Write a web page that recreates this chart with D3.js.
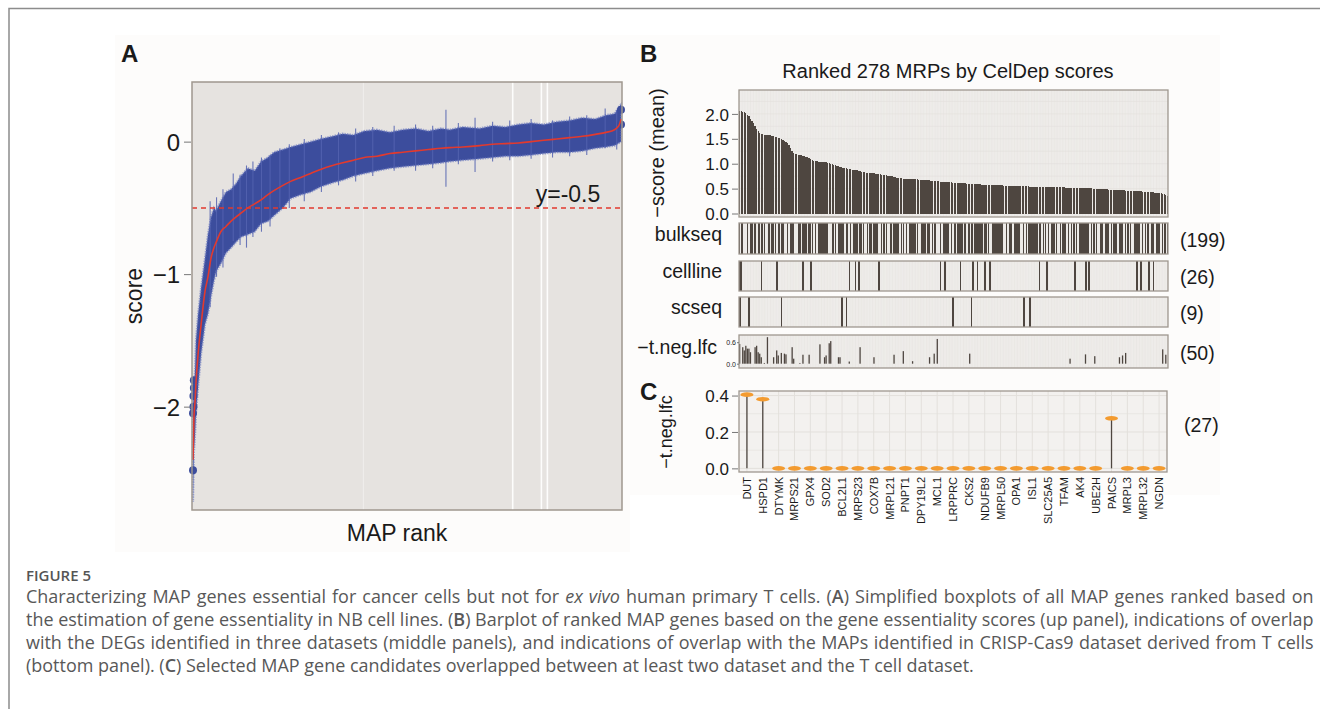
<!DOCTYPE html>
<html>
<head>
<meta charset="utf-8">
<script src="https://cdn.jsdelivr.net/npm/d3@7"></script>
<style>
  body { margin: 0; background: #fff; }
  svg { display: block; }
  text { font-family: "Liberation Sans", Arial, sans-serif; fill: #1a1a1a; }
  .cap { font-family: "Open Sans", sans-serif; fill: #585858; }
</style>
</head>
<body>
<script>
// ---- panel A: ranked boxplot summary (rank scale 0..1000) ----
var aRank   = [0, 2, 5, 7, 12, 19, 28, 35, 42, 49, 54, 65, 77, 89, 100, 112, 128, 144, 159, 175, 189, 210, 228, 252, 275, 298, 326, 350, 375, 400, 430, 460, 490, 520, 550, 580, 600, 630, 670, 700, 730, 760, 790, 820, 850, 880, 910, 940, 965, 985, 995, 1000];
var aMedian = [-2.40, -2.10, -1.95, -1.82, -1.60, -1.38, -1.13, -1.02, -0.88, -0.80, -0.76, -0.68, -0.64, -0.60, -0.57, -0.54, -0.50, -0.47, -0.44, -0.40, -0.37, -0.33, -0.30, -0.27, -0.24, -0.21, -0.18, -0.16, -0.14, -0.12, -0.11, -0.09, -0.08, -0.07, -0.06, -0.05, -0.045, -0.04, -0.03, -0.02, -0.015, -0.01, 0.00, 0.01, 0.02, 0.03, 0.04, 0.055, 0.07, 0.09, 0.12, 0.17];
var aLower  = [-2.72, -2.35, -2.20, -2.05, -1.85, -1.60, -1.38, -1.30, -1.17, -1.05, -0.98, -0.92, -0.84, -0.80, -0.76, -0.72, -0.70, -0.68, -0.62, -0.60, -0.56, -0.50, -0.43, -0.40, -0.38, -0.34, -0.31, -0.29, -0.26, -0.24, -0.22, -0.20, -0.19, -0.18, -0.17, -0.16, -0.15, -0.14, -0.13, -0.12, -0.11, -0.11, -0.10, -0.09, -0.08, -0.08, -0.07, -0.05, -0.04, -0.03, -0.01, 0.00];
var aUpper  = [-2.00, -1.90, -1.70, -1.50, -1.30, -1.10, -0.88, -0.70, -0.57, -0.50, -0.52, -0.45, -0.38, -0.36, -0.32, -0.26, -0.20, -0.22, -0.15, -0.12, -0.08, -0.06, -0.04, -0.02, 0.00, 0.02, 0.04, 0.06, 0.05, 0.08, 0.09, 0.07, 0.09, 0.10, 0.08, 0.10, 0.09, 0.11, 0.10, 0.12, 0.11, 0.13, 0.14, 0.13, 0.15, 0.16, 0.18, 0.17, 0.20, 0.21, 0.26, 0.28];
// individual long whiskers standing out of the band
var aSpikeRank = [40, 55, 70, 94, 110, 125, 140, 160, 180, 203, 225, 260, 300, 340, 380, 420, 470, 520, 560, 591, 620, 659, 700, 740, 790, 840, 880, 920, 963, 990];
var aSpikeLow  = [-1.25, -1.02, -0.95, -0.75, -0.78, -0.80, -0.72, -0.68, -0.64, -0.50, -0.50, -0.45, -0.38, -0.33, -0.30, -0.26, -0.22, -0.22, -0.20, -0.34, -0.17, -0.23, -0.15, -0.14, -0.13, -0.12, -0.11, -0.10, -0.05, -0.06];
var aSpikeHigh = [-0.45, -0.42, -0.36, -0.24, -0.25, -0.18, -0.15, -0.12, -0.10, -0.05, -0.02, 0.02, 0.05, 0.07, 0.10, 0.11, 0.12, 0.13, 0.12, 0.24, 0.14, 0.18, 0.15, 0.16, 0.17, 0.16, 0.19, 0.20, 0.25, 0.24];
var aOutRank  = [0, 0, 1, 1, 2, 2, 1000, 1000];
var aOutScore = [-2.48, -2.05, -2.00, -1.92, -1.86, -1.80, 0.24, 0.13];
var aGridRank = [398, 747, 814, 828];
var aTicks = [0, -1, -2];
var cutoff = -0.5;

// ---- panel B: 278 ranked MRPs ----
var bScores = [
  2.06, 2.05, 2.04, 2.03, 2.01, 1.98, 1.95, 1.90, 1.86, 1.82, 1.75, 1.70, 1.66,
  1.62, 1.60, 1.59, 1.58, 1.58, 1.58, 1.57, 1.57, 1.56, 1.55,
  1.54, 1.53, 1.52, 1.51, 1.50, 1.48, 1.46, 1.44, 1.42, 1.38, 1.32, 1.26,
  1.22, 1.20, 1.19, 1.18, 1.17, 1.17, 1.16, 1.15, 1.14, 1.13, 1.12, 1.10, 1.08, 1.06,
  1.05, 1.05, 1.04, 1.04, 1.04, 1.04, 1.03, 1.03, 1.02, 1.01, 1.00, 0.99,
  0.98, 0.97, 0.96, 0.95, 0.94, 0.93, 0.92, 0.92, 0.91, 0.90, 0.90, 0.89,
  0.88, 0.88, 0.87, 0.87, 0.86, 0.85, 0.84, 0.83, 0.83, 0.82, 0.82, 0.82,
  0.81, 0.81, 0.81, 0.80, 0.80, 0.79, 0.79, 0.78, 0.78, 0.77, 0.77, 0.76,
  0.76, 0.75, 0.75, 0.74, 0.73, 0.72, 0.72, 0.71, 0.71, 0.70, 0.70, 0.70,
  0.70, 0.70, 0.70, 0.69, 0.69, 0.69, 0.69, 0.68, 0.68, 0.68, 0.68, 0.67, 0.67, 0.67, 0.67, 0.66,
  0.66, 0.66, 0.65, 0.65, 0.65, 0.64, 0.64, 0.64, 0.64, 0.63, 0.63, 0.63, 0.63, 0.62, 0.62, 0.62,
  0.62, 0.62, 0.61, 0.61, 0.61, 0.61, 0.60, 0.60, 0.60, 0.60, 0.60, 0.59, 0.59, 0.59, 0.59, 0.59, 0.58, 0.58, 0.58, 0.58,
  0.58, 0.58, 0.58, 0.58, 0.57, 0.57, 0.57, 0.57, 0.57, 0.57, 0.56, 0.56, 0.56, 0.56, 0.56, 0.56, 0.56, 0.55, 0.55, 0.55, 0.55, 0.55, 0.55, 0.55, 0.55,
  0.55, 0.55, 0.54, 0.54, 0.54, 0.54, 0.54, 0.54, 0.54, 0.54, 0.53, 0.53, 0.53, 0.53, 0.53, 0.53, 0.53, 0.53, 0.53, 0.53,
  0.53, 0.53, 0.53, 0.53, 0.53, 0.52, 0.52, 0.52, 0.52, 0.52, 0.52, 0.52, 0.52, 0.52, 0.52, 0.51, 0.51, 0.51, 0.51, 0.51,
  0.51, 0.51, 0.51, 0.50, 0.50, 0.50, 0.50, 0.50, 0.49, 0.49, 0.49, 0.49, 0.49, 0.48, 0.48, 0.48, 0.48, 0.48, 0.47, 0.47,
  0.47, 0.47, 0.47, 0.47, 0.46, 0.46, 0.46, 0.46, 0.46, 0.46,
  0.45, 0.45, 0.45, 0.45, 0.45, 0.44, 0.44, 0.44, 0.44, 0.44,
  0.43, 0.43, 0.43, 0.42, 0.42, 0.42, 0.41, 0.41, 0.40, 0.39, 0.37, 0.35
];
var bTicks = [0, 0.5, 1.0, 1.5, 2.0];
var bulkMissing = [3, 4, 6, 9, 11, 17, 18, 20, 24, 29, 30, 32, 36, 37, 40, 44, 48, 50, 58, 59,
  63, 68, 71, 73, 77, 81, 82, 86, 90, 91, 96, 97, 99, 104, 107, 109, 116, 117, 121, 124,
  128, 129, 131, 136, 138, 145, 147, 158, 162, 163, 171, 172, 174, 177, 182, 183, 185, 196, 199, 201,
  206, 207, 212, 214, 219, 227, 232, 233, 236, 240, 245, 249, 254, 255, 260, 262, 266, 269, 273];
var celllineRanks = [0, 1, 14, 24, 41, 46, 71, 75, 77, 90, 130, 133, 143, 151, 154, 159, 162, 194, 199, 217, 224, 226, 257, 260, 265, 268];
var scseqRanks = [0, 6, 27, 66, 69, 138, 150, 184, 188];
var tnegRanks = [0, 2, 3, 4, 5, 6, 7, 10, 11, 12, 13, 14, 16, 18, 22, 24, 25, 27, 29, 30,
  34, 35, 39, 41, 45, 52, 55, 56, 58, 59, 64, 65, 71, 78, 87, 100, 106, 112, 123, 126,
  128, 149, 214, 224, 230, 246, 248, 250, 274, 276];
var tnegValues = [0.55, 0.46, 0.37, 0.50, 0.42, 0.42, 0.32, 0.46, 0.50, 0.32, 0.28, 0.18, 0.02, 0.74, 0.18, 0.37, 0.23, 0.30, 0.28, 0.26,
  0.46, 0.14, 0.02, 0.25, 0.25, 0.54, 0.18, 0.23, 0.57, 0.63, 0.18, 0.18, 0.06, 0.46, 0.18, 0.25, 0.35, 0.07, 0.18, 0.28,
  0.69, 0.28, 0.14, 0.26, 0.21, 0.18, 0.23, 0.30, 0.40, 0.25];
var stripNames = ["bulkseq", "cellline", "scseq", "\u2212t.neg.lfc"];
var stripCounts = [199, 26, 9, 50];

// ---- panel C: selected candidates ----
var cGenes = ["DUT", "HSPD1", "DTYMK", "MRPS21", "GPX4", "SOD2", "BCL2L1", "MRPS23", "COX7B", "MRPL21", "PNPT1", "DPY19L2", "MCL1", "LRPPRC",
  "CKS2", "NDUFB9", "MRPL50", "OPA1", "ISL1", "SLC25A5", "TFAM", "AK4", "UBE2H", "PAICS", "MRPL3", "MRPL32", "NGDN"];
var cValues = [0.405, 0.38, 0, 0, 0, 0, 0, 0, 0, 0, 0, 0, 0, 0, 0, 0, 0, 0, 0, 0, 0, 0, 0, 0.275, 0, 0, 0];
var cTicks = [0, 0.2, 0.4];

var ink = "#4e4640", frameCol = "#9f978f", orange = "#f39b30", blue = "#3c4d9d", red = "#e23a2e";

var svg = d3.select("body").append("svg").attr("width", 1320).attr("height", 709);

// figure frame
svg.append("path").attr("d", "M9,709V8.5H1320").attr("fill", "none").attr("stroke", "#8c8c8c").attr("stroke-width", 1.5);
svg.append("rect").attr("x", 115).attr("y", 35).attr("width", 515).attr("height", 517).attr("fill", "#fdfcfb");
svg.append("rect").attr("x", 630).attr("y", 35).attr("width", 590).attr("height", 460).attr("fill", "#fdfcfb");

function panelLetter(t, x, y) {
  svg.append("text").attr("x", x).attr("y", y).attr("font-size", 24).attr("font-weight", "bold").attr("fill", "#000").text(t);
}
panelLetter("A", 121, 62);
panelLetter("B", 640, 62);
panelLetter("C", 640, 400);

// ================= Panel A =================
var xA = d3.scaleLinear().domain([0, 1000]).range([193, 621]);
var yA = d3.scaleLinear().domain([-2.78, 0.45]).range([510, 82]);
var gA = svg.append("g");
gA.append("rect").attr("x", 192).attr("y", 82).attr("width", 430).attr("height", 428).attr("fill", "#e6e3e0");
gA.selectAll(".vgrid").data(aGridRank).enter().append("line")
  .attr("x1", xA).attr("x2", xA).attr("y1", 82).attr("y2", 510)
  .attr("stroke", "#fff").attr("stroke-width", function (d, i) { return i == 0 ? 0.7 : 1.6; })
  .attr("stroke-opacity", function (d, i) { return i == 0 ? 0.6 : 0.9; });

var aRows = aRank.map(function (r, i) { return { r: r, m: aMedian[i], lo: aLower[i], hi: aUpper[i] }; });
gA.append("path").datum(aRows)
  .attr("d", d3.area().x(function (d) { return xA(d.r); }).y0(function (d) { return yA(d.lo); }).y1(function (d) { return yA(d.hi); }))
  .attr("fill", blue).attr("stroke", "#6877bf").attr("stroke-width", 2.2).attr("stroke-opacity", 0.6)
  .attr("stroke-dasharray", "1.5,1");
gA.selectAll(".spike").data(aSpikeRank).enter().append("line")
  .attr("x1", xA).attr("x2", xA)
  .attr("y1", function (d, i) { return yA(aSpikeLow[i]); })
  .attr("y2", function (d, i) { return yA(aSpikeHigh[i]); })
  .attr("stroke", "#5363b0").attr("stroke-width", 1.1).attr("stroke-opacity", 0.85);
gA.selectAll(".out").data(aOutRank).enter().append("circle")
  .attr("cx", xA).attr("cy", function (d, i) { return yA(aOutScore[i]); })
  .attr("r", 4).attr("fill", blue);
gA.append("line").attr("x1", 192).attr("x2", 622).attr("y1", yA(cutoff)).attr("y2", yA(cutoff))
  .attr("stroke", red).attr("stroke-width", 1.5).attr("stroke-dasharray", "5,4");
gA.append("path").datum(aRows)
  .attr("d", d3.line().x(function (d) { return xA(d.r); }).y(function (d) { return yA(d.m); }).curve(d3.curveMonotoneX))
  .attr("fill", "none").attr("stroke", red).attr("stroke-width", 1.6);
gA.append("rect").attr("x", 192).attr("y", 82).attr("width", 430).attr("height", 428)
  .attr("fill", "none").attr("stroke", frameCol).attr("stroke-width", 1.5);
gA.append("text").attr("x", 568).attr("y", yA(cutoff) - 6).attr("text-anchor", "middle").attr("font-size", 23).text("y=-0.5");

var axA = gA.append("g").attr("transform", "translate(191,0)")
  .call(d3.axisLeft(yA).tickValues(aTicks).tickFormat(d3.format("d")).tickSize(7).tickPadding(4));
axA.select(".domain").remove();
axA.selectAll("line").attr("stroke", "#777");
axA.selectAll("text").attr("font-size", 24).attr("fill", "#1a1a1a").attr("dy", "0.36em");
gA.append("text").attr("transform", "translate(142,296) rotate(-90)").attr("text-anchor", "middle").attr("font-size", 23).text("score");
gA.append("text").attr("x", 397).attr("y", 541).attr("text-anchor", "middle").attr("font-size", 23).text("MAP rank");

// ================= Panel B =================
var ranks = d3.range(bScores.length);
var xB = d3.scaleBand().domain(ranks).range([739, 1168]).paddingInner(0.15);
var xBc = function (d) { return xB(d) + xB.bandwidth() / 2; };
var yB = d3.scaleLinear().domain([-0.07, 2.48]).range([217, 90]);
var gB = svg.append("g");
gB.append("text").attr("x", 948).attr("y", 78).attr("text-anchor", "middle").attr("font-size", 20).text("Ranked 278 MRPs by CelDep scores");

function stripBox(y0, y1) {
  gB.append("rect").attr("x", 739).attr("y", y0).attr("width", 429).attr("height", y1 - y0).attr("fill", "#f2f0ee");
  gB.append("g").selectAll("line").data(ranks).enter().append("line")
    .attr("x1", xBc).attr("x2", xBc).attr("y1", y0).attr("y2", y1)
    .attr("stroke", "#e0ddd9").attr("stroke-width", 0.45);
}
function stripFrame(y0, y1) {
  gB.append("rect").attr("x", 739).attr("y", y0).attr("width", 429).attr("height", y1 - y0)
    .attr("fill", "none").attr("stroke", frameCol).attr("stroke-width", 1.3);
}

stripBox(90, 217);
gB.selectAll(".hg").data([0.25, 0.5, 0.75, 1, 1.25, 1.5, 1.75, 2, 2.25]).enter().append("line")
  .attr("x1", 739).attr("x2", 1168).attr("y1", yB).attr("y2", yB)
  .attr("stroke", "#e2dfdb").attr("stroke-width", 0.6);
gB.append("g").selectAll("rect").data(bScores).enter().append("rect")
  .attr("x", function (d, i) { return xB(i); }).attr("width", xB.bandwidth())
  .attr("y", function (d) { return yB(d); }).attr("height", function (d) { return yB(0) - yB(d); })
  .attr("fill", ink).attr("shape-rendering", "crispEdges");
stripFrame(90, 217);
var axB = gB.append("g").attr("transform", "translate(738,0)")
  .call(d3.axisLeft(yB).tickValues(bTicks).tickFormat(d3.format(".1f")).tickSize(6).tickPadding(3));
axB.select(".domain").remove();
axB.selectAll("line").attr("stroke", "#777");
axB.selectAll("text").attr("font-size", 17).attr("fill", "#1a1a1a").attr("dy", "0.36em");
gB.append("text").attr("transform", "translate(664,153) rotate(-90)").attr("text-anchor", "middle").attr("font-size", 20).text("\u2212score (mean)");

// overlap strips
var stripY = [[223, 254], [261, 291], [297, 327], [335, 368]];
var bulkRanks = ranks.filter(function (r) { return bulkMissing.indexOf(r) < 0; });
var stripMarks = [bulkRanks, celllineRanks, scseqRanks];
stripMarks.forEach(function (marks, s) {
  var y0 = stripY[s][0], y1 = stripY[s][1];
  stripBox(y0, y1);
  gB.append("g").selectAll("rect").data(marks).enter().append("rect")
    .attr("x", function (d) { return xB(d); }).attr("width", s == 0 ? xB.bandwidth() : 1.7)
    .attr("y", y0).attr("height", y1 - y0)
    .attr("fill", ink).attr("shape-rendering", "crispEdges");
  stripFrame(y0, y1);
});
var yT = d3.scaleLinear().domain([-0.12, 0.8]).range([368, 335]);
stripBox(335, 368);
gB.append("g").selectAll("rect").data(tnegRanks).enter().append("rect")
  .attr("x", function (d) { return xB(d); }).attr("width", 1.3)
  .attr("y", function (d, i) { return yT(tnegValues[i]); })
  .attr("height", function (d, i) { return yT(0) - yT(tnegValues[i]); })
  .attr("fill", ink);
stripFrame(335, 368);
var axT = gB.append("g").attr("transform", "translate(739,0)")
  .call(d3.axisLeft(yT).tickValues([0, 0.6]).tickFormat(d3.format(".1f")).tickSize(2).tickPadding(1));
axT.select(".domain").remove();
axT.selectAll("line").attr("stroke", "#777");
axT.selectAll("text").attr("font-size", 7).attr("fill", "#555").attr("dy", "0.36em");

stripNames.forEach(function (n, s) {
  var yc = (stripY[s][0] + stripY[s][1]) / 2;
  gB.append("text").attr("x", s == 3 ? 717 : 722).attr("y", yc + 2).attr("text-anchor", "end").attr("font-size", 19.5).text(n);
  gB.append("text").attr("x", 1180).attr("y", yc + 8).attr("font-size", 19.5).text("(" + stripCounts[s] + ")");
});

// ================= Panel C =================
var xC = d3.scalePoint().domain(cGenes).range([739, 1167]).padding(0.5);
var yC = d3.scaleLinear().domain([-0.02, 0.425]).range([472, 391]);
var gC = svg.append("g");
gC.append("rect").attr("x", 739).attr("y", 391).attr("width", 428).attr("height", 81).attr("fill", "#f3f1ef");
gC.selectAll(".cv").data(cGenes).enter().append("line")
  .attr("x1", xC).attr("x2", xC).attr("y1", 391).attr("y2", 472).attr("stroke", "#e3e0dc").attr("stroke-width", 1);
gC.selectAll(".ch").data([0, 0.1, 0.2, 0.3, 0.4]).enter().append("line")
  .attr("x1", 739).attr("x2", 1167).attr("y1", yC).attr("y2", yC)
  .attr("stroke", "#e3e0dc").attr("stroke-width", function (d, i) { return i % 2 ? 0.6 : 1; });
gC.selectAll(".stem").data(cGenes).enter().append("line")
  .attr("x1", xC).attr("x2", xC).attr("y1", yC(0))
  .attr("y2", function (d, i) { return yC(cValues[i]); })
  .attr("stroke", ink).attr("stroke-width", 1.3);
gC.selectAll(".pt").data(cGenes).enter().append("ellipse")
  .attr("cx", xC).attr("cy", function (d, i) { return yC(cValues[i]); })
  .attr("rx", 6.5).attr("ry", 2.3).attr("fill", orange);
gC.append("rect").attr("x", 739).attr("y", 391).attr("width", 428).attr("height", 81)
  .attr("fill", "none").attr("stroke", frameCol).attr("stroke-width", 1.3);
var axC = gC.append("g").attr("transform", "translate(738,0)")
  .call(d3.axisLeft(yC).tickValues(cTicks).tickFormat(d3.format(".1f")).tickSize(6).tickPadding(3));
axC.select(".domain").remove();
axC.selectAll("line").attr("stroke", "#777");
axC.selectAll("text").attr("font-size", 17).attr("fill", "#1a1a1a").attr("dy", "0.36em");
gC.selectAll(".xl").data(cGenes).enter().append("text")
  .attr("transform", function (d) { return "translate(" + (xC(d) + 4) + ",477) rotate(-90)"; })
  .attr("text-anchor", "end").attr("font-size", 11).attr("fill", "#333").text(function (d) { return d; });
gC.append("text").attr("transform", "translate(672,432) rotate(-90)").attr("text-anchor", "middle").attr("font-size", 18).text("\u2212t.neg.lfc");
gC.append("text").attr("x", 1184).attr("y", 432).attr("font-size", 19.5).text("(" + cGenes.length + ")");

// ================= Caption =================
var capX = 26, capRight = 1314;
svg.append("text").attr("class", "cap").attr("x", capX).attr("y", 581)
  .attr("font-size", 15).attr("font-weight", 600).style("fill", "#555").text("FIGURE 5");
var capLines = [
  [["Characterizing MAP genes essential for cancer cells but not for ", ""], ["ex vivo", "i"], [" human primary T cells. (", ""], ["A", "b"], [") Simplified boxplots of all MAP genes ranked based on", ""]],
  [["the estimation of gene essentiality in NB cell lines. (", ""], ["B", "b"], [") Barplot of ranked MAP genes based on the gene essentiality scores (up panel), indications of overlap", ""]],
  [["with the DEGs identified in three datasets (middle panels), and indications of overlap with the MAPs identified in CRISP-Cas9 dataset derived from T cells", ""]],
  [["(bottom panel). (", ""], ["C", "b"], [") Selected MAP gene candidates overlapped between at least two dataset and the T cell dataset.", ""]]
];
var capNodes = capLines.map(function (segs, li) {
  var t = svg.append("text").attr("class", "cap").attr("x", capX).attr("y", 603 + li * 23).attr("font-size", 16);
  segs.forEach(function (s) {
    var sp = t.append("tspan").text(s[0]);
    if (s[1] == "i") sp.attr("font-style", "italic");
    if (s[1] == "b") sp.attr("font-weight", 600);
  });
  return t;
});
// size the caption so the widest line fits, then justify the full lines
var widths = capNodes.map(function (t) { return t.node().getComputedTextLength(); });
var fs = 16 * (capRight - capX) / d3.max(widths);
capNodes.forEach(function (t, li) {
  t.attr("font-size", fs);
  if (li < capNodes.length - 1) {
    var spaces = capLines[li].map(function (s) { return s[0]; }).join("").split(" ").length - 1;
    var extra = (capRight - capX) - widths[li] * fs / 16;
    t.attr("word-spacing", extra / spaces);
  }
});
</script>
</body>
</html>
